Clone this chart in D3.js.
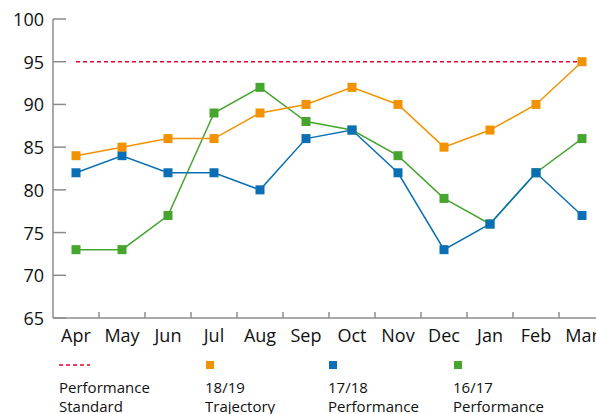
<!DOCTYPE html>
<html>
<head>
<meta charset="utf-8">
<script src="https://cdn.jsdelivr.net/npm/d3@7"></script>
<style>
  body { margin: 0; background: #fff; }
  svg { display: block; font-family: "Open Sans", sans-serif; }
</style>
</head>
<body>
<svg id="chart" width="596" height="414"></svg>
<script>
let months = ['Apr', 'May', 'Jun', 'Jul', 'Aug', 'Sep', 'Oct', 'Nov', 'Dec', 'Jan', 'Feb', 'Mar'];
let trajectory1819 = [84, 85, 86, 86, 89, 90, 92, 90, 85, 87, 90, 95];
let perf1718 = [82, 84, 82, 82, 80, 86, 87, 82, 73, 76, 82, 77];
let perf1617 = [73, 73, 77, 89, 92, 88, 87, 84, 79, 76, 82, 86];
let standard = 95;
let yTicks = [65, 70, 75, 80, 85, 90, 95, 100];

let svg = d3.select('#chart');

// axis frame
let plotLeft = 53, plotTop = 19, plotBottom = 318;
let x = d3.scaleBand().domain(months).range([plotLeft, plotLeft + 46 * 12]);
let y = d3.scaleLinear().domain([65, 100]).range([plotBottom, plotTop]);

// y axis line + ticks (ticks point inward)
svg.append('line')
    .attr('x1', plotLeft).attr('x2', plotLeft)
    .attr('y1', y(100)).attr('y2', plotBottom)
    .attr('stroke', '#8c8c8c').attr('stroke-width', 1.5);

svg.selectAll('.ytick')
    .data(yTicks)
    .join('line')
    .attr('x1', plotLeft).attr('x2', plotLeft + 13)
    .attr('y1', d => y(d)).attr('y2', d => y(d))
    .attr('stroke', '#8c8c8c').attr('stroke-width', 1.5);

svg.selectAll('.ylabel')
    .data(yTicks)
    .join('text')
    .attr('x', 44)
    .attr('y', d => y(d) + 7)
    .attr('text-anchor', 'end')
    .attr('font-size', '18px')
    .attr('fill', '#111')
    .text(d => d);

// x axis line + ticks (ticks point upward)
svg.append('line')
    .attr('x1', plotLeft).attr('x2', 596)
    .attr('y1', plotBottom).attr('y2', plotBottom)
    .attr('stroke', '#8c8c8c').attr('stroke-width', 1.5);

svg.selectAll('.xtick')
    .data(months.slice(1))
    .join('line')
    .attr('x1', d => x(d)).attr('x2', d => x(d))
    .attr('y1', plotBottom).attr('y2', plotBottom - 6)
    .attr('stroke', '#8c8c8c').attr('stroke-width', 1.5);

svg.selectAll('.xlabel')
    .data(months)
    .join('text')
    .attr('x', d => x(d) + x.bandwidth() / 2)
    .attr('y', 342)
    .attr('text-anchor', 'middle')
    .attr('font-size', '18px')
    .attr('fill', '#111')
    .text(d => d);

let cx = d => x(d) + x.bandwidth() / 2;

// performance standard line
svg.append('line')
    .attr('x1', cx(months[0])).attr('x2', cx(months[11]))
    .attr('y1', y(standard)).attr('y2', y(standard))
    .attr('stroke', '#e4002b').attr('stroke-width', 1.5)
    .attr('stroke-dasharray', '4,3');

let series = [
    { name: '16/17', values: perf1617, color: '#45a52f' },
    { name: '17/18', values: perf1718, color: '#0a6fb5' },
    { name: '18/19', values: trajectory1819, color: '#f39200' }
];

let line = d3.line()
    .x((d, i) => cx(months[i]))
    .y(d => y(d));

series.forEach(s => {
    svg.append('path')
        .datum(s.values)
        .attr('d', line)
        .attr('fill', 'none')
        .attr('stroke', s.color)
        .attr('stroke-width', 1.5);
});

series.forEach(s => {
    svg.selectAll(null)
        .data(s.values)
        .join('rect')
        .attr('x', (d, i) => cx(months[i]) - 4.5)
        .attr('y', d => y(d) - 4.5)
        .attr('width', 9).attr('height', 9)
        .attr('fill', s.color);
});

// legend
let legend = [
    { x: 59, lines: ['Performance', 'Standard'], type: 'dash', color: '#e4002b' },
    { x: 205, lines: ['18/19', 'Trajectory'], type: 'box', color: '#f39200' },
    { x: 328, lines: ['17/18', 'Performance'], type: 'box', color: '#0a6fb5' },
    { x: 453, lines: ['16/17', 'Performance'], type: 'box', color: '#45a52f' }
];

legend.forEach(l => {
    if (l.type == 'dash') {
        svg.append('line')
            .attr('x1', l.x).attr('x2', l.x + 31)
            .attr('y1', 365).attr('y2', 365)
            .attr('stroke', l.color).attr('stroke-width', 1.5)
            .attr('stroke-dasharray', '4,3');
    } else {
        svg.append('rect')
            .attr('x', l.x + 1).attr('y', 361)
            .attr('width', 8).attr('height', 8)
            .attr('fill', l.color);
    }
    l.lines.forEach((t, i) => {
        svg.append('text')
            .attr('x', l.x)
            .attr('y', 393 + i * 19)
            .attr('font-size', '15px')
            .attr('fill', '#111')
            .text(t);
    });
});
</script>
</body>
</html>
